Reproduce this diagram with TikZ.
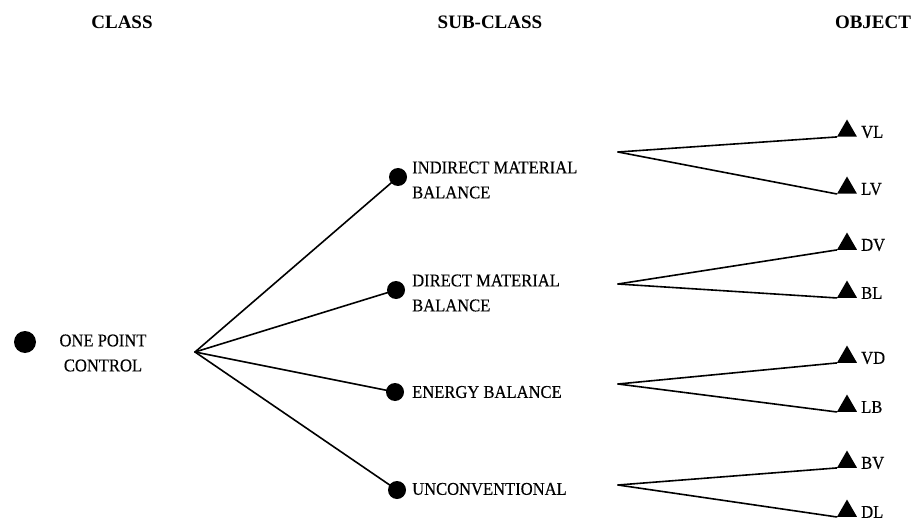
\documentclass[tikz,border=0pt]{standalone}
\usepackage{fontspec}
\setmainfont{Liberation Serif}
\newfontfamily\labelfont[FakeStretch=0.92,FakeBold=0.3]{Liberation Serif}
\usetikzlibrary{shapes.geometric}

\tikzset{
  header/.style={font=\bfseries\fontsize{19}{22}\selectfont},
  txt/.style={font=\labelfont\fontsize{18}{25}\selectfont, inner sep=0pt},
  classdot/.style={circle, fill=black, minimum size=22pt, inner sep=0pt},
  subdot/.style={circle, fill=black, minimum size=18pt, inner sep=0pt},
  objtri/.style={regular polygon, regular polygon sides=3, fill=black,
                 minimum size=23pt, inner sep=0pt},
  link/.style={line width=1.6pt, line cap=round}
}

\begin{document}
\begin{tikzpicture}[x=1pt, y=-1pt]
  \useasboundingbox (0,0) rectangle (917,521);

  % column headings
  \node[header] (hclass) at (122,22) {CLASS};
  \node[header] (hsub)   at (490,22) {SUB-CLASS};
  \node[header] (hobj)   at (873,22) {OBJECT};

  % class level
  \node[classdot] (cls) at (25,342) {};
  \node[txt, align=center] (clstxt) at (103,353) {ONE POINT\\CONTROL};
  \coordinate (fan) at (195,352);

  % sub-class level
  \node[subdot] (s1) at (398,177) {};
  \node[subdot] (s2) at (396,290) {};
  \node[subdot] (s3) at (395,392) {};
  \node[subdot] (s4) at (397,490) {};
  \node[txt, anchor=west, align=left] (t1) at (412,180) {INDIRECT MATERIAL\\BALANCE};
  \node[txt, anchor=west, align=left] (t2) at (412,293) {DIRECT MATERIAL\\BALANCE};
  \node[txt, anchor=west] (t3) at (412,392) {ENERGY BALANCE};
  \node[txt, anchor=west] (t4) at (412,489) {UNCONVENTIONAL};

  \foreach \s in {s1,s2,s3,s4} \draw[link] (fan) -- (\s.center);

  % object level: branch points
  \coordinate (b1) at (618,152);
  \coordinate (b2) at (618,284);
  \coordinate (b3) at (618,384);
  \coordinate (b4) at (618,485);

  % object markers and labels
  \foreach \n/\y/\lab in {o1/131/VL, o2/188/LV, o3/244/DV, o4/292/BL,
                          o5/357/VD, o6/406/LB, o7/462/BV, o8/511/DL} {
    \node[objtri] (\n) at (847,\y) {};
    \node[txt, anchor=west] (\n lab) at (861,\y+1) {\lab};
  }

  \draw[link] (b1) -- (o1.corner 2);
  \draw[link] (b1) -- (o2.corner 2);
  \draw[link] (b2) -- (o3.corner 2);
  \draw[link] (b2) -- (o4.corner 2);
  \draw[link] (b3) -- (o5.corner 2);
  \draw[link] (b3) -- (o6.corner 2);
  \draw[link] (b4) -- (o7.corner 2);
  \draw[link] (b4) -- (o8.corner 2);
\end{tikzpicture}
\end{document}
